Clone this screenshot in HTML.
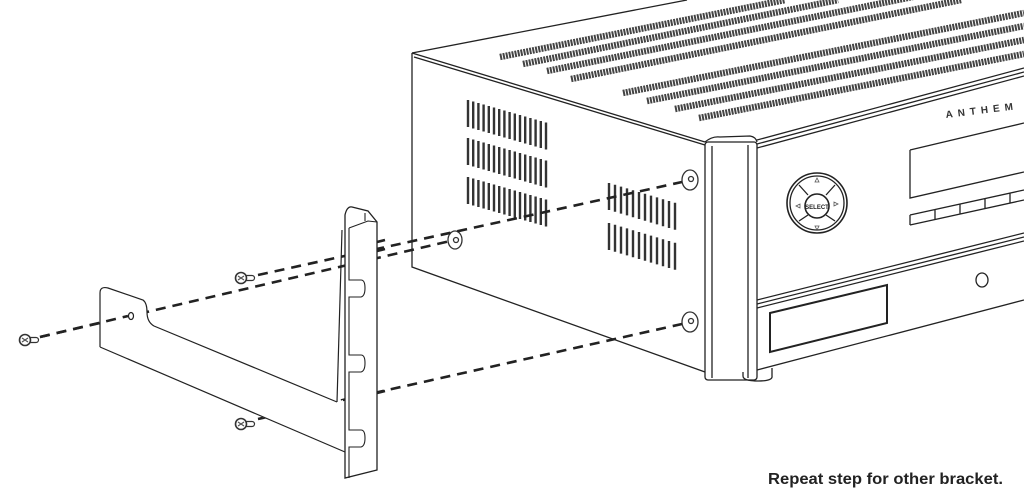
<!DOCTYPE html>
<html><head><meta charset="utf-8"><style>
html,body{margin:0;padding:0;background:#fff;width:1024px;height:499px;overflow:hidden}
svg{display:block}
</style></head><body>
<svg width="1024" height="499" viewBox="0 0 1024 499" xmlns="http://www.w3.org/2000/svg">
<defs>
<path id="sv1" d="M468 100v27m5.2-25.5v27m5.2-25.5v27m5.2-25.5v27m5.2-25.5v27m5.2-25.5v27m5.2-25.5v27m5.2-25.5v27m5.2-25.5v27m5.2-25.5v27m5.2-25.5v27m5.2-25.5v27m5.2-25.5v27m5.2-25.5v27m5.2-25.5v27m5.2-25.5v27" stroke="#333" stroke-width="2.4" fill="none"/>
<path id="sv2" d="M609 183v27m6-25.2v27m6-25.2v27m6-25.2v27m6-25.2v27m6-25.2v27m6-25.2v27m6-25.2v27m6-25.2v27m6-25.2v27m6-25.2v27m6-25.2v27" stroke="#333" stroke-width="2.4" fill="none"/>
<g id="screw">
<circle cx="0" cy="0" r="5.5" fill="#fff" stroke="#333" stroke-width="1.6"/>
<path d="M-3 -2l6 4M-3 2l6-4" stroke="#555" stroke-width="1.2"/>
<path d="M5 -2.5h6a2.5 2.5 0 0 1 0 5h-6" fill="none" stroke="#333" stroke-width="1.2"/>
</g>
</defs>

<!-- top vents -->
<g stroke="#444" stroke-width="6.5" stroke-dasharray="2 1" fill="none">
<path d="M500 57L785 0M523 64L838 0M547 71L937 -8M571 79L961 0"/>
<path d="M623 93L1024 13M647 101L1024 26M675 109L1024 40M699 118L1024 54"/>
</g>

<!-- receiver outline -->
<g fill="none" stroke="#222" stroke-width="1.3">
<path d="M412 53L687 0"/>
<path d="M412 53L705 142M414 57L705 145"/>
<path d="M412 53V267L705 372"/>
<path d="M705 142Q712 136 720 137L750 136Q756 137 757 142"/>
<rect x="705" y="142" width="52" height="238" rx="3"/>
<path d="M712 146V378M748 145V378"/>
<path d="M757 140L1024 68M757 144L1024 72M757 148L1024 76"/>
<path d="M757 370L1024 300"/>
<path d="M743 372v4q0 5 15 5t14-5v-8"/>
<path d="M910 150L1024 123M910 150V198L1024 172"/>
<path d="M910 215L1024 190M910 225L1024 200M910 215V225M935 209v10M960 204v10M985 198v10M1010 193v10"/>
<path d="M757 300L1024 233M757 304L1024 237M757 308L1024 241"/>
<path d="M770 313L887 285V323L770 352Z" stroke-width="2"/>
<ellipse cx="982" cy="280" rx="6" ry="7"/>
<circle cx="817" cy="203" r="30" stroke-width="1.6"/>
<circle cx="817" cy="203" r="27"/>
<circle cx="817" cy="206" r="12" stroke-width="1.6"/>
<path d="M799 185L808 195M835 185L826 195M799 221L808 215M835 221L826 215"/>
</g>
<text x="817" y="209" font-family="Liberation Sans, sans-serif" font-size="6" font-weight="bold" text-anchor="middle" fill="#222">SELECT</text>
<g fill="none" stroke="#555" stroke-width="0.8">
<path d="M817 178l-2 4h4z M817 230l-2-4h4z M796 206l4-2v4z M838 204l-4-2v4z"/>
</g>
<text x="946" y="118" font-family="Liberation Sans, sans-serif" font-size="10" font-weight="bold" fill="#333" letter-spacing="5" transform="rotate(-7 946 118)">ANTHEM</text>

<!-- side vents -->
<use href="#sv1"/><use href="#sv1" y="38"/><use href="#sv1" y="77"/>
<use href="#sv2"/><use href="#sv2" y="40"/>

<g fill="#fff" stroke="#333" stroke-width="1.3">
<ellipse cx="690" cy="180" rx="8" ry="10"/><circle cx="691" cy="179" r="2.5"/>
<ellipse cx="690" cy="322" rx="8" ry="10"/><circle cx="691" cy="321" r="2.5"/>
<ellipse cx="455" cy="240" rx="7" ry="9"/><circle cx="456" cy="240" r="2.5"/>
</g>

<g stroke="#222" stroke-width="2.6" stroke-dasharray="10 7" fill="none">
<path d="M40 337L450 241"/>
<path d="M258 275L682 182"/>
<path d="M258 419L682 324"/>
</g>

<path d="M100 347V293Q100 286 108 288L143 300Q147 303 147 312Q147 322 154 326L337 402L343 400V452Z" fill="#fff" stroke="none"/>
<g fill="none" stroke="#222" stroke-width="1.2">
<path d="M100 347V293Q100 286 108 288L143 300Q147 303 147 312Q147 322 154 326L337 402"/>
<path d="M100 347L345 452"/>
<path d="M337 402L342 230"/>
<ellipse cx="131" cy="316" rx="2.5" ry="3.5"/>
</g>
<path d="M40 337L128 316" stroke="#222" stroke-width="2.6" stroke-dasharray="10 7"/>

<path d="M345 215Q347 206 352 207L368 211L377 222V470L345 478Z" fill="#fff" stroke="#222" stroke-width="1.3"/>
<g fill="none" stroke="#222" stroke-width="1.1">
<path d="M349 228L368 221L377 222"/>
<path d="M349 228V280h12q4 0 4 8t-4 9h-12V355h12q4 0 4 8t-4 9h-12V430h12q4 0 4 8t-4 9h-12V478"/>
<path d="M365 213v8"/>
</g>
<g stroke="#222" stroke-width="2.6" fill="none">
<path d="M377 242l8-2M377 251l8-2M377 393l8-2"/>
</g>

<use href="#screw" x="25" y="340"/>
<use href="#screw" x="241" y="278"/>
<use href="#screw" x="241" y="424"/>

<text x="768" y="484" font-family="Liberation Sans, sans-serif" font-size="15.5" font-weight="bold" fill="#222" textLength="235" lengthAdjust="spacingAndGlyphs">Repeat step for other bracket.</text>
</svg>
</body></html>
